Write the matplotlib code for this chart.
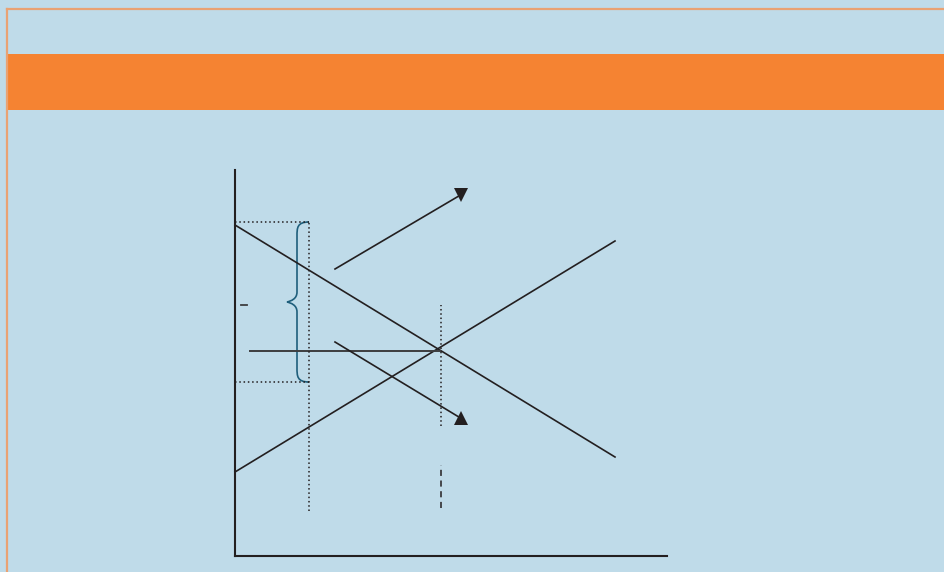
import matplotlib
matplotlib.use("Agg")
import matplotlib.pyplot as plt
from matplotlib.patches import Rectangle, PathPatch
from matplotlib.path import Path

# diagram values (quantity, price) in chart units
demand_q = [0, 380]
demand_p = [331, 99]
supply_q = [0, 380]
supply_p = [84, 315]

price_line_q = [15, 205]
price_line_p = [205, 205]

ceiling_q = 74
ceiling_p = [45, 334]
upper_p = 334
lower_p = 174

eq_q = 206
eq_dotted_p = [130, 251]
eq_dashed_p = [48, 91]
tick_p = 251
tick_q = [6, 12]

up_arrow_q = [100, 225.5]
up_arrow_p = [287, 361]
down_arrow_q = [100, 225.5]
down_arrow_p = [214, 138]

brace_tip_q = 52
brace_body_q = 62

BG = "#bfdbe9"
ORANGE = "#f58332"
BORDER = "#e9a273"
INK = "#231f20"
TEAL = "#1f5f7c"

W, H = 944, 572
fig = plt.figure(figsize=(W / 100, H / 100), dpi=100, facecolor=BG)

# frame and banner
fig.patches.append(Rectangle((8 / W, 1 - 110 / H), 1, 56 / H, transform=fig.transFigure,
                             facecolor=ORANGE, edgecolor="none"))
fig.lines.append(plt.Line2D([7 / W, 1], [1 - 9 / H, 1 - 9 / H], transform=fig.transFigure,
                            color=BORDER, lw=1.6))
fig.lines.append(plt.Line2D([7 / W, 7 / W], [0, 1 - 9 / H], transform=fig.transFigure,
                            color=BORDER, lw=1.6))

ax = fig.add_axes([235 / W, 16 / H, 432 / W, 386 / H])
ax.set_xlim(0, 432)
ax.set_ylim(0, 386)
ax.set_facecolor("none")
for s in ["top", "right"]:
    ax.spines[s].set_visible(False)
for s in ["left", "bottom"]:
    ax.spines[s].set_color(INK)
    ax.spines[s].set_linewidth(1.5)
ax.set_xticks([])
ax.set_yticks([])

# curves
ax.plot(demand_q, demand_p, color=INK, lw=1.2, clip_on=False)
ax.plot(supply_q, supply_p, color=INK, lw=1.2, clip_on=False)
ax.plot(price_line_q, price_line_p, color="#3d3d3f", lw=1.4, clip_on=False)

dots = (0, (1, 1.8))
ax.plot([ceiling_q, ceiling_q], ceiling_p, color=INK, lw=1.1, ls=dots)
ax.plot([0, ceiling_q], [upper_p, upper_p], color=INK, lw=1.1, ls=dots)
ax.plot([0, ceiling_q], [lower_p, lower_p], color=INK, lw=1.1, ls=dots)
ax.plot([eq_q, eq_q], eq_dotted_p, color=INK, lw=1.1, ls=dots)
ax.plot([eq_q, eq_q], eq_dashed_p, color=INK, lw=1.1, ls=(0, (4, 3)))
ax.plot(tick_q, [tick_p, tick_p], color="#3d3d3f", lw=1.3)

# arrows
ax.plot(up_arrow_q, up_arrow_p, color=INK, lw=1.2)
ax.plot(up_arrow_q[-1], up_arrow_p[-1], marker="v", ms=9.5, color=INK, mew=0)
ax.plot(down_arrow_q, down_arrow_p, color=INK, lw=1.2)
ax.plot(down_arrow_q[-1], down_arrow_p[-1], marker="^", ms=9.5, color=INK, mew=0)

# brace
mid_p = (upper_p + lower_p) / 2
e, b, t = ceiling_q, brace_body_q, brace_tip_q
verts = [
    (e, upper_p), (b, upper_p), (b, upper_p - 6), (b, upper_p - 14),
    (b, mid_p + 10),
    (b, mid_p + 3), (t + 4, mid_p + 1), (t, mid_p),
    (t + 4, mid_p - 1), (b, mid_p - 3), (b, mid_p - 10),
    (b, lower_p + 14),
    (b, lower_p + 6), (b, lower_p), (e, lower_p),
]
codes = [Path.MOVETO, Path.CURVE4, Path.CURVE4, Path.CURVE4,
         Path.LINETO,
         Path.CURVE4, Path.CURVE4, Path.CURVE4,
         Path.CURVE4, Path.CURVE4, Path.CURVE4,
         Path.LINETO,
         Path.CURVE4, Path.CURVE4, Path.CURVE4]
ax.add_patch(PathPatch(Path(verts, codes), facecolor="none", edgecolor=TEAL, lw=1.2))

fig.savefig("out.png", dpi=100, facecolor=BG)
